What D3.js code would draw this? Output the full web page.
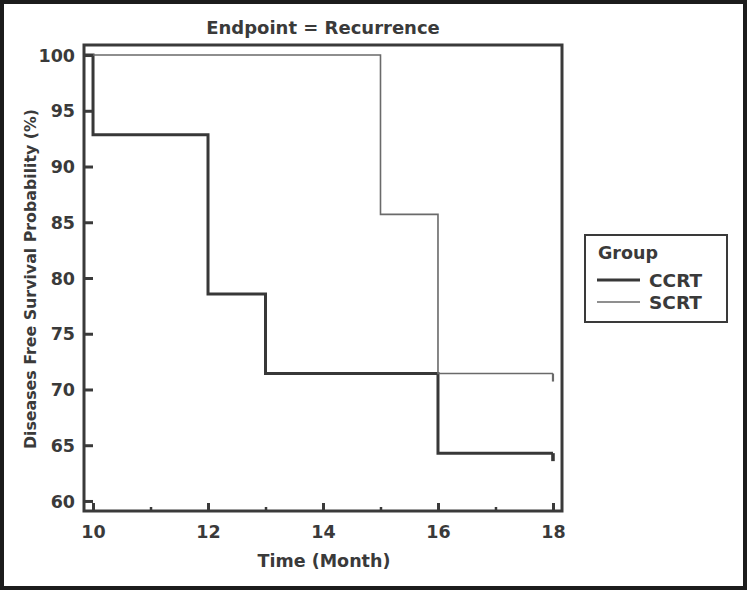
<!DOCTYPE html>
<html><head><meta charset="utf-8">
<script src="https://cdn.jsdelivr.net/npm/d3@7"></script>
<style>html,body{margin:0;padding:0;background:#fff}svg{display:block}</style>
</head><body>
<script>
const title = "Endpoint = Recurrence";
const xLabel = "Time (Month)";
const yLabel = "Diseases Free Survival Probability (%)";
const groups = ["CCRT", "SCRT"];
const ccrtTimes = [10, 12, 13, 16];
const ccrtSurv = [92.86, 78.57, 71.43, 64.29];
const scrtTimes = [15, 16];
const scrtSurv = [85.71, 71.43];
const startSurv = 100;
const endTime = 18;
const xTicks = [10, 12, 14, 16, 18];
const xMinorTicks = [11, 13, 15, 17];
const yTicks = [60, 65, 70, 75, 80, 85, 90, 95, 100];

const W = 747, H = 590;
const svg = d3.select("body").append("svg").attr("width", W).attr("height", H);
svg.append("rect").attr("x", 0).attr("y", 0).attr("width", W).attr("height", H)
  .attr("fill", "#fff").attr("stroke", "#1c1c1c").attr("stroke-width", 8);

const x = d3.scaleLinear().domain([9.843, 18.157]).range([84, 562]);
const y = d3.scaleLinear().domain([59.1, 100.9]).range([511, 45]);
const ink = "#3a3a3a";
const font = "'DejaVu Sans', Verdana, sans-serif";

// title
svg.append("text").attr("x", 323).attr("y", 34).attr("text-anchor", "middle")
  .attr("font-family", font).attr("font-weight", "bold").attr("font-size", 18)
  .attr("fill", ink).text(title);

// curves
function steps(times, surv) {
  const pts = [[x.domain()[0], startSurv]];
  times.forEach((t, i) => pts.push([t, surv[i]]));
  pts.push([endTime, surv[surv.length - 1]]);
  return pts;
}
const line = d3.line().x(d => x(d[0])).y(d => y(d[1])).curve(d3.curveStepAfter);
const series = [
  {name: groups[0], pts: steps(ccrtTimes, ccrtSurv), color: "#383838", w: 3},
  {name: groups[1], pts: steps(scrtTimes, scrtSurv), color: "#6a6a6a", w: 1.6}
];
series.forEach(s => {
  svg.append("path").attr("d", line(s.pts)).attr("fill", "none")
    .attr("stroke", s.color).attr("stroke-width", s.w);
  const last = s.pts[s.pts.length - 1];
  svg.append("line").attr("x1", x(last[0])).attr("x2", x(last[0]))
    .attr("y1", y(last[1])).attr("y2", y(last[1]) + 8)
    .attr("stroke", s.color).attr("stroke-width", s.w + 0.6);
});

// frame
svg.append("rect").attr("x", x.range()[0]).attr("y", y.range()[1])
  .attr("width", x.range()[1] - x.range()[0]).attr("height", y.range()[0] - y.range()[1])
  .attr("fill", "none").attr("stroke", ink).attr("stroke-width", 3);

// y axis (ticks inward)
const yAxis = d3.axisLeft(y).tickValues(yTicks).tickSize(-9).tickPadding(9);
const gy = svg.append("g").attr("transform", `translate(${x.range()[0]},0)`).call(yAxis);
gy.select(".domain").remove();
gy.selectAll(".tick line").attr("stroke", ink).attr("stroke-width", 3);
gy.selectAll(".tick text").attr("font-family", font).attr("font-weight", "bold")
  .attr("font-size", 17.5).attr("fill", ink).attr("dy", "0.35em");

// x axis (ticks inward)
const xAxis = d3.axisBottom(x).tickValues(xTicks).tickSize(-8).tickPadding(15);
const gx = svg.append("g").attr("transform", `translate(0,${y.range()[0]})`).call(xAxis);
gx.select(".domain").remove();
gx.selectAll(".tick line").attr("stroke", ink).attr("stroke-width", 3);
gx.selectAll(".tick text").attr("font-family", font).attr("font-weight", "bold")
  .attr("font-size", 17.5).attr("fill", ink);
const gxm = svg.append("g").attr("transform", `translate(0,${y.range()[0]})`)
  .call(d3.axisBottom(x).tickValues(xMinorTicks).tickSize(-4).tickFormat(""));
gxm.select(".domain").remove();
gxm.selectAll(".tick line").attr("stroke", ink).attr("stroke-width", 2.5);

// axis titles
svg.append("text").attr("x", 324).attr("y", 567).attr("text-anchor", "middle")
  .attr("font-family", font).attr("font-weight", "bold").attr("font-size", 17.5)
  .attr("fill", ink).text(xLabel);
svg.append("text").attr("transform", "translate(36,279) rotate(-90)").attr("text-anchor", "middle")
  .attr("font-family", font).attr("font-weight", "bold").attr("font-size", 15.8)
  .attr("fill", ink).text(yLabel);

// legend
const lg = svg.append("g");
lg.append("rect").attr("x", 585).attr("y", 235).attr("width", 142).attr("height", 87)
  .attr("fill", "#fff").attr("stroke", ink).attr("stroke-width", 2);
lg.append("text").attr("x", 598).attr("y", 259).attr("font-family", font)
  .attr("font-weight", "bold").attr("font-size", 17.5).attr("fill", ink).text("Group");
series.forEach((s, i) => {
  const yy = 280 + i * 22;
  lg.append("line").attr("x1", 597).attr("x2", 640).attr("y1", yy).attr("y2", yy)
    .attr("stroke", s.color).attr("stroke-width", s.w);
  lg.append("text").attr("x", 649).attr("y", yy + 7).attr("font-family", font)
    .attr("font-weight", "bold").attr("font-size", 18.5).attr("fill", ink).text(s.name);
});
</script>
</body></html>
